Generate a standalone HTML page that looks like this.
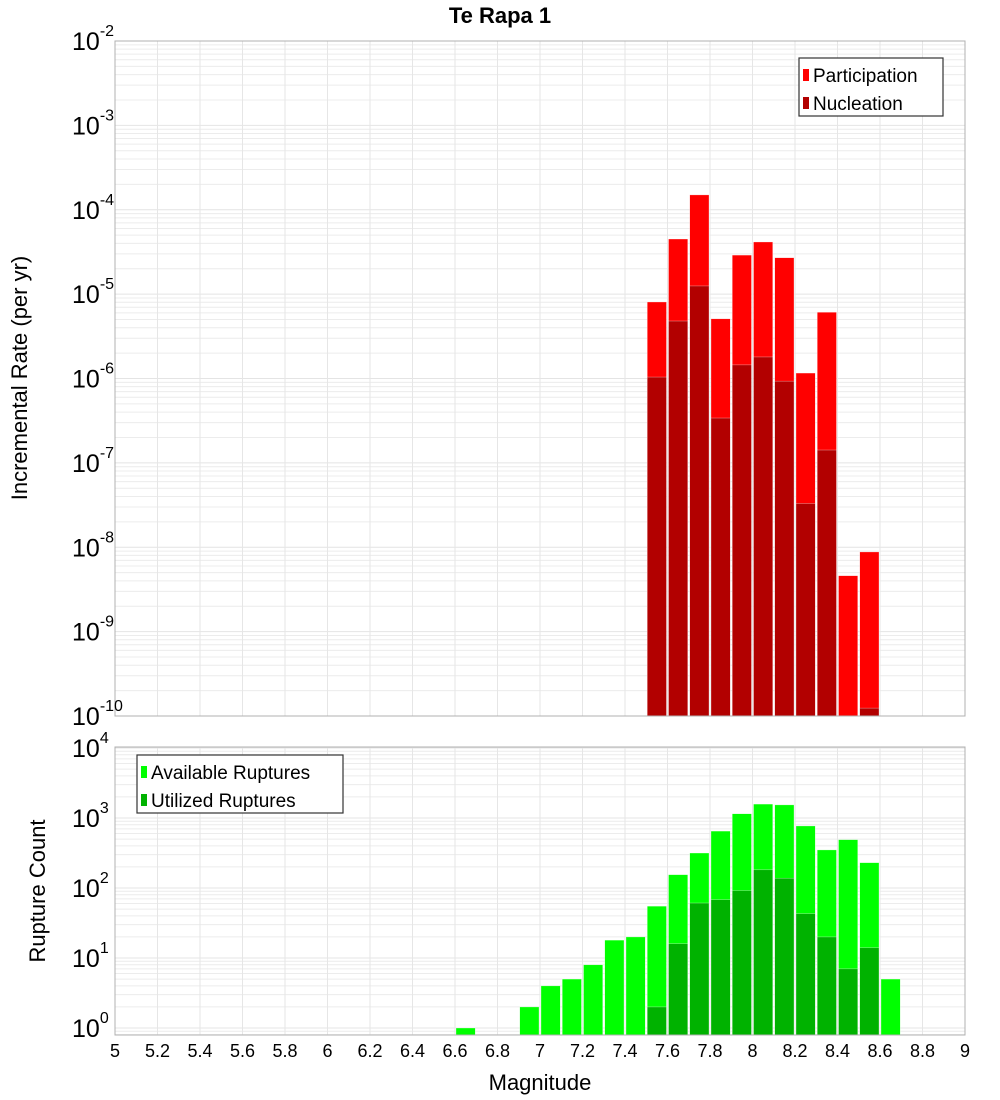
<!DOCTYPE html>
<html><head><meta charset="utf-8"><style>
body{margin:0;background:#fff;}
svg{display:block;font-family:"Liberation Sans","DejaVu Sans",sans-serif;}
</style></head><body>
<svg id="chart" width="1000" height="1100"></svg>
<script>
const binCenters=[6.65,6.95,7.05,7.15,7.25,7.35,7.45,7.55,7.65,7.75,7.85,7.95,8.05,8.15,8.25,8.35,8.45,8.55,8.65];
const partMags=[7.55,7.65,7.75,7.85,7.95,8.05,8.15,8.25,8.35,8.45,8.55];
const partVals=[8.07e-6,4.5e-5,1.5e-4,5.1e-6,2.9e-5,4.15e-5,2.7e-5,1.16e-6,6.1e-6,4.6e-9,8.8e-9];
const nuclMags=[7.55,7.65,7.75,7.85,7.95,8.05,8.15,8.25,8.35,8.55];
const nuclVals=[1.04e-6,4.8e-6,1.25e-5,3.4e-7,1.45e-6,1.8e-6,9.3e-7,3.3e-8,1.42e-7,1.24e-10];
const availVals=[1,2,4,5,8,18,20,55,155,316,650,1150,1580,1540,770,350,490,230,5];
const utilMags=[7.55,7.65,7.75,7.85,7.95,8.05,8.15,8.25,8.35,8.45,8.55];
const utilVals=[2,16,61,68,92,182,138,43,20,7,14];
const xTicks=[5,5.2,5.4,5.6,5.8,6,6.2,6.4,6.6,6.8,7,7.2,7.4,7.6,7.8,8,8.2,8.4,8.6,8.8,9];
const topExps=[-2,-3,-4,-5,-6,-7,-8,-9,-10];
const botExps=[4,3,2,1,0];

const NS="http://www.w3.org/2000/svg";
const svg=document.getElementById('chart');
function el(t,a,p){const e=document.createElementNS(NS,t);for(const k in a)e.setAttribute(k,a[k]);(p||svg).appendChild(e);return e;}
const X0=115,X1=965;
const xs=m=>X0+(m-5)/4*(X1-X0);
const T0=41,T1=716;
const yTop=v=>T0+(-2-Math.log10(v))*(T1-T0)/8;
const B0=748,B1=1035,BD=70;
const yBot=v=>B0+(4-Math.log10(v))*BD;

function grid(top,bot,yfun,lo,hi){
  const g=el('g',{});
  
  
  for(let e=lo;e<=hi;e++)for(let k=1;k<10;k++){const y=yfun(k*Math.pow(10,e));if(y<top||y>bot)continue;
    el('line',{x1:X0,x2:X1,y1:y,y2:y,stroke:k==1?'#e4e4e4':'#ececec','stroke-width':1},g);}
  xTicks.forEach(t=>{const x=xs(t);el('line',{x1:x,x2:x,y1:top,y2:bot,stroke:'#e6e6e6','stroke-width':1},g);});
}
grid(T0,T1,yTop,-10,-2);
grid(B0-1,B1,yBot,-1,4);

function bars(mags,vals,yfun,base,color,name){
  mags.forEach((m,i)=>{const y=yfun(vals[i]);const x=xs(m-0.05)+1,w=xs(m+0.05)-xs(m-0.05)-2;
    const r=el('rect',{x:x,y:y,width:w,height:base-y,fill:color,stroke:'rgba(255,255,255,0.6)','stroke-width':0.5});
    
    });
}
bars(partMags,partVals,yTop,T1,'#ff0000','participation-bar');
bars(nuclMags,nuclVals,yTop,T1,'#b20000','nucleation-bar');
bars(binCenters,availVals,yBot,B1,'#00ff00','available-bar');
bars(utilMags,utilVals,yBot,B1,'#00b200','utilized-bar');

let f=el('rect',{x:X0,y:T0,width:X1-X0,height:T1-T0,fill:'none',stroke:'#b0b0b0'});

f=el('rect',{x:X0,y:B0-1,width:X1-X0,height:B1-B0+1,fill:'none',stroke:'#b0b0b0'});


function ylab(y,e,name){const t=el('text',{x:72,y:y+9,'font-size':25,fill:'#000'});t.textContent='10';
  const s=el('tspan',{dy:-14,'font-size':16});s.textContent=String(e);t.appendChild(s);
  }
topExps.forEach(e=>ylab(yTop(Math.pow(10,e)),e,'y-tick-label'));
botExps.forEach(e=>ylab(yBot(Math.pow(10,e)),e,'y-tick-label'));
xTicks.forEach(t=>{const tx=el('text',{x:xs(t),y:1057,'font-size':18,'text-anchor':'middle',fill:'#000'});tx.textContent=String(t);
  });

let t=el('text',{x:500,y:23,'font-size':22,'font-weight':'bold','text-anchor':'middle'});t.textContent='Te Rapa 1';

t=el('text',{x:540,y:1090,'font-size':22,'text-anchor':'middle'});t.textContent='Magnitude';

t=el('text',{x:0,y:0,'font-size':22,'text-anchor':'middle',transform:'translate(27,378) rotate(-90)'});t.textContent='Incremental Rate (per yr)';

t=el('text',{x:0,y:0,'font-size':22,'text-anchor':'middle',transform:'translate(45,891) rotate(-90)'});t.textContent='Rupture Count';


function legend(x,y,w,items,name){const g=el('g',{});
  el('rect',{x:x,y:y,width:w,height:58,fill:'#fff',stroke:'#333','stroke-width':1.2},g);
  items.forEach((it,i)=>{el('rect',{x:x+4,y:y+11+i*28,width:6,height:12,fill:it[1]},g);
    const tx=el('text',{x:x+14,y:y+24+i*28,'font-size':19},g);tx.textContent=it[0];});}
legend(799,58,144,[['Participation','#ff0000'],['Nucleation','#b20000']],'top-legend');
legend(137,755,206,[['Available Ruptures','#00ff00'],['Utilized Ruptures','#00b200']],'bottom-legend');
</script>
</body></html>
